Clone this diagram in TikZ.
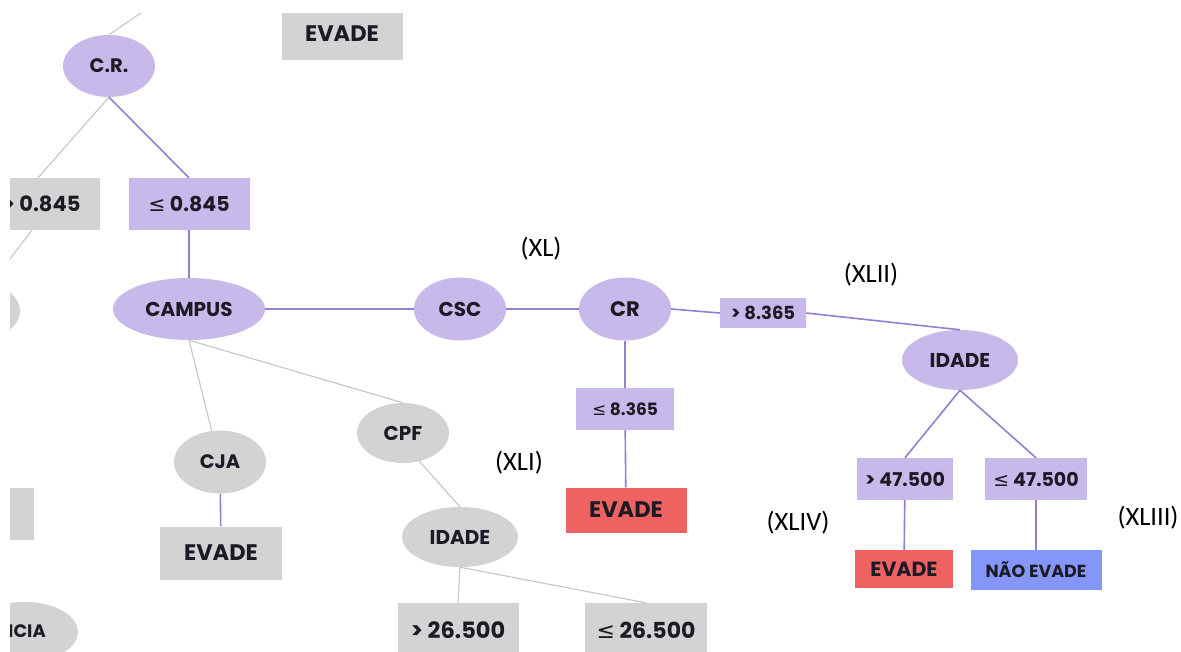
\documentclass[tikz,border=0pt]{standalone}
\usepackage{fontspec}
\setmainfont{Poppins}
\newfontfamily\labfont{Carlito}
\newfontfamily\symf{DejaVu Sans}
\usetikzlibrary{shapes.geometric,calc}
\newcommand{\lesym}{{\symf\mdseries ≤}}
\newcommand{\fsz}[1]{\bfseries\fontsize{#1}{#1}\selectfont}
\definecolor{purp}{RGB}{200,185,235}
\definecolor{purpline}{RGB}{148,126,206}
\definecolor{greyfill}{RGB}{211,211,211}
\definecolor{greyline}{RGB}{198,198,198}
\definecolor{redfill}{RGB}{239,98,98}
\definecolor{bluefill}{RGB}{132,150,248}
\definecolor{ink}{RGB}{28,26,36}
\tikzset{
  pell/.style={ellipse,fill=purp,inner sep=0pt,text=ink,font=\fsz{20}},
  gell/.style={ellipse,fill=greyfill,inner sep=0pt,text=ink,font=\fsz{20}},
  pbox/.style={rectangle,fill=purp,inner sep=0pt,text=ink,font=\fsz{20.5}},
  gbox/.style={rectangle,fill=greyfill,inner sep=0pt,text=ink,font=\fsz{22.5}},
  rbox/.style={rectangle,fill=redfill,inner sep=0pt,text=ink,font=\fsz{20.5}},
  bbox/.style={rectangle,fill=bluefill,inner sep=0pt,text=ink,font=\fsz{17.5}},
  plink/.style={draw=purpline,line width=1.6pt},
  glink/.style={draw=greyline,line width=1.1pt},
  tag/.style={text=black,font=\labfont\fontsize{26.5}{28}\selectfont,inner sep=0pt}
}
\begin{document}
\begin{tikzpicture}[x=1pt,y=-1pt]
\useasboundingbox (0,0) rectangle (1181,651);
\fill[white] (0,0) rectangle (1181,651);
\begin{scope}
\clip (10,13) rectangle (1181,651);
% ---- nodes
\node[pell,font=\fsz{19.5},minimum width=92,minimum height=62] (cr) at (109,66) {C.R.};
\node[gbox,minimum width=121,minimum height=52] (evtop) at (342,34) {EVADE};
\node[gbox,font=\fsz{21},minimum width=116,minimum height=52] (g0845) at (42,204) {> 0.845};
\node[pbox,minimum width=121,minimum height=52] (p0845) at (189,204) {\lesym{} 0.845};
\node[gell,minimum width=100,minimum height=62] (leftell) at (-30,311) {};
\node[pell,minimum width=152,minimum height=62] (campus) at (189,309) {CAMPUS};
\node[pell,minimum width=92,minimum height=63] (csc) at (460,309) {CSC};
\node[pell,font=\fsz{21},minimum width=92,minimum height=63] (crn) at (625,309) {CR};
\node[pbox,font=\fsz{18},minimum width=86,minimum height=30] (gt8365) at (763,313) {> 8.365};
\node[pell,minimum width=116,minimum height=60] (idadep) at (960,360) {IDADE};
\node[pbox,font=\fsz{19},minimum width=96,minimum height=42] (gt475) at (905,479) {> 47.500};
\node[pbox,font=\fsz{19},minimum width=102,minimum height=42] (le475) at (1036,479) {\lesym{} 47.500};
\node[rbox,minimum width=98,minimum height=38] (evr2) at (904,569) {EVADE};
\node[bbox,minimum width=131,minimum height=40] (nao) at (1036,570) {NÃO EVADE};
\node[pbox,font=\fsz{17},minimum width=98,minimum height=42] (le8365) at (625,409) {\lesym{} 8.365};
\node[rbox,font=\fsz{22.5},minimum width=121,minimum height=45] (evr1) at (626,510) {EVADE};
\node[gell,minimum width=92,minimum height=60] (cpf) at (403,433) {CPF};
\node[gell,font=\fsz{19.5},minimum width=92,minimum height=63] (cja) at (220,462) {CJA};
\node[gbox,minimum width=122,minimum height=53] (evg) at (221,553) {EVADE};
\node[gbox,minimum width=93,minimum height=52] (leftbox) at (-13,514) {};
\node[gell,minimum width=106,minimum height=60] (icia) at (25,632) {};
\node[text=ink,font=\fsz{18},anchor=west,inner sep=0pt] (iciatxt) at (8,631) {ICIA};
\node[gell,minimum width=116,minimum height=60] (idadeg) at (460,537) {IDADE};
\node[gbox,minimum width=121,minimum height=54] (gt265) at (458,630) {> 26.500};
\node[gbox,font=\fsz{22},minimum width=122,minimum height=54] (le265) at (646,630) {\lesym{} 26.500};
\coordinate (upout) at (160,0);
% ---- grey branches
\draw[glink] (cr.north) -- (upout);
\draw[glink] (cr.south) -- ($(g0845.north)+(-4,0)$);
\draw[glink] ($(g0845.south)+(-10,0)$) -- (leftell);
\draw[glink] (campus.south) -- (cja.105);
\draw[glink] (campus.south) -- (cpf.north);
\draw[glink] (cpf.300) -- (idadeg.north);
\draw[glink] (idadeg.south) -- (gt265.north);
\draw[glink] (idadeg.south) -- (le265.north);
% ---- purple branches
\draw[plink] (cr.south) -- (p0845.north);
\draw[plink] (p0845) -- (campus);
\draw[plink] (campus) -- (csc);
\draw[plink] (csc) -- (crn);
\draw[plink] (crn.east) -- (gt8365.west);
\draw[plink] (gt8365.east) -- (idadep.north);
\draw[plink] (idadep.south) -- (gt475.north);
\draw[plink] (idadep.south) -- (le475.north);
\draw[plink] (gt475) -- (evr2);
\draw[plink] (le475) -- (nao);
\draw[plink] (crn) -- (le8365);
\draw[plink] (le8365) -- (evr1);
\draw[plink] (cja) -- (evg);
\end{scope}
% ---- roman numeral tags
\node[tag] (t40) at (541,249) {(XL)};
\node[tag] (t41) at (519,463) {(XLI)};
\node[tag] (t42) at (871,275) {(XLII)};
\node[tag] (t43) at (1148,518) {(XLIII)};
\node[tag] (t44) at (798,523) {(XLIV)};
\end{tikzpicture}
\end{document}
